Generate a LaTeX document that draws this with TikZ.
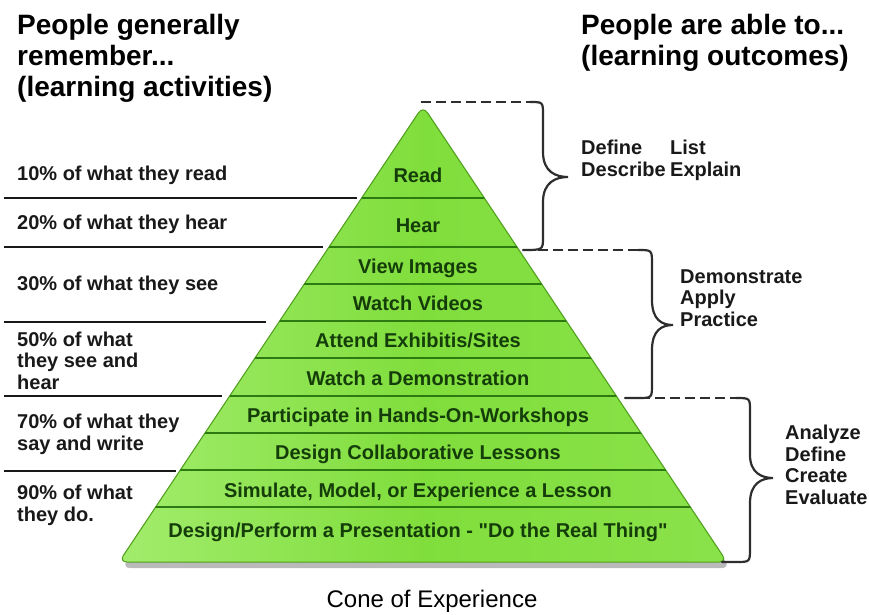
\documentclass[tikz,border=0pt]{standalone}
\usepackage{fontspec}
\setmainfont{Liberation Sans}[Ligatures=TeXOff]
\usetikzlibrary{shadows}

\definecolor{conegreen}{HTML}{80DE3C}
\definecolor{conelight}{HTML}{A2EC6C}
\definecolor{coneright}{HTML}{8AE24A}
\definecolor{conerim}{HTML}{4E9E1C}
\definecolor{layerline}{HTML}{2E7A12}
\definecolor{layertext}{HTML}{153D0A}
\definecolor{bracegray}{HTML}{2E2E2E}

\begin{document}
\begin{tikzpicture}[x=1pt, y=-1pt,
    head/.style={font=\bfseries\fontsize{28}{31}\selectfont, align=left, inner sep=0pt, anchor=base west},
    remember/.style={font=\bfseries\fontsize{20}{21.3}\selectfont, align=left, inner sep=0pt, anchor=base west, text=black!90},
    outcome/.style={font=\bfseries\fontsize{20}{21.5}\selectfont, align=left, inner sep=0pt, anchor=base west, text=black!90},
    layer/.style={font=\bfseries\fontsize{20}{22}\selectfont, text=layertext, inner sep=0pt, anchor=base},
    sepline/.style={line width=2.5pt, black!90},
    dashlink/.style={line width=2.5pt, bracegray, dash pattern=on 10pt off 5pt},
    brace/.style={line width=2.2pt, bracegray, line cap=round}]

    \useasboundingbox (0,0) rectangle (869,614);

    %the cone itself
    \path[draw=conerim, line width=1pt, rounded corners=8pt,
          left color=conelight, right color=coneright, middle color=conegreen,
          drop shadow={shadow xshift=3pt, shadow yshift=-6pt, fill=black!60, opacity=0.45}]
        (423,106) -- (727,562) -- (119,562) -- cycle;
    \begin{scope}
        \clip (423,106) -- (727,562) -- (119,562) -- cycle;
        \foreach \y in {198,247,284,321,358,396,433,470,507}
            \draw[layerline, line width=2pt] (100,\y) -- (760,\y);
    \end{scope}

    %headings (base is the last line)
    \node[head] (hdLeft) at (17,96) {People generally\\remember...\\(learning activities)};
    \node[head] (hdRight) at (581,65) {People are able to...\\(learning outcomes)};

    %what people remember
    \node[remember] (rd10) at (17,180) {10\% of what they read};
    \node[remember] (rd20) at (17,229) {20\% of what they hear};
    \node[remember] (rd30) at (17,290) {30\% of what they see};
    \node[remember] (rd50) at (17,389) {50\% of what\\they see and\\hear};
    \node[remember] (rd70) at (17,450) {70\% of what they\\say and write};
    \node[remember] (rd90) at (17,521) {90\% of what\\they do.};

    %the layers of the cone
    \node[layer] (lRead) at (418,182) {Read};
    \node[layer] (lHear) at (418,232) {Hear};
    \node[layer] (lView) at (418,273) {View Images};
    \node[layer] (lVideo) at (418,310) {Watch Videos};
    \node[layer] (lSites) at (418,347) {Attend Exhibitis/Sites};
    \node[layer] (lDemo) at (418,385) {Watch a Demonstration};
    \node[layer] (lWork) at (418,422) {Participate in Hands-On-Workshops};
    \node[layer] (lCollab) at (418,459) {Design Collaborative Lessons};
    \node[layer] (lSim) at (418,497) {Simulate, Model, or Experience a Lesson};
    \node[layer] (lReal) at (418,537) {Design/Perform a Presentation - "Do the Real Thing"};

    %learning outcomes
    \node[outcome] (outA) at (581,176) {Define\\Describe};
    \node[outcome] (outB) at (670,176) {List\\Explain};
    \node[outcome] (outC) at (680,326) {Demonstrate\\Apply\\Practice};
    \node[outcome] (outD) at (785,504) {Analyze\\Define\\Create\\Evaluate};

    %caption
    \node[font=\fontsize{24}{28}\selectfont, inner sep=0pt, anchor=base] (caption) at (432,607) {Cone of Experience};

    %separators on the left
    \coordinate (sA1) at (4,198);   \coordinate (sA2) at (357,198);
    \coordinate (sB1) at (4,247);   \coordinate (sB2) at (323,247);
    \coordinate (sC1) at (4,322);   \coordinate (sC2) at (266,322);
    \coordinate (sD1) at (4,396);   \coordinate (sD2) at (222,396);
    \coordinate (sE1) at (4,471);   \coordinate (sE2) at (176,471);
    \draw[sepline] (sA1) -- (sA2);
    \draw[sepline] (sB1) -- (sB2);
    \draw[sepline] (sC1) -- (sC2);
    \draw[sepline] (sD1) -- (sD2);
    \draw[sepline] (sE1) -- (sE2);

    %braces on the right
    \coordinate (apex) at (421,102);
    \coordinate (b1top) at (530,102);
    \coordinate (b1tip) at (568,177);
    \coordinate (b1bot) at (523,250);
    \coordinate (b2top) at (638,250);
    \coordinate (b2tip) at (673,325);
    \coordinate (b2bot) at (625,398);
    \coordinate (b3top) at (736,398);
    \coordinate (b3tip) at (773,478);
    \coordinate (b3bot) at (722,562);

    \draw[dashlink] (apex) -- (b1top);
    \draw[dashlink] (b1bot) -- (b2top);
    \draw[dashlink] (b2bot) -- (b3top);

    \draw[brace] (b1top) .. controls (543,102) .. (543,115) -- (543,152)
        .. controls (543,172) and (556,177) .. (b1tip)
        .. controls (556,177) and (543,182) .. (543,202) -- (543,237)
        .. controls (543,250) .. (b1bot);
    \draw[brace] (b2top) .. controls (652,250) .. (652,264) -- (652,300)
        .. controls (652,320) and (662,325) .. (b2tip)
        .. controls (662,325) and (652,330) .. (652,350) -- (652,384)
        .. controls (652,398) .. (638,398) -- (b2bot);
    \draw[brace] (b3top) .. controls (750,398) .. (750,411) -- (750,455)
        .. controls (750,473) and (762,478) .. (b3tip)
        .. controls (762,478) and (750,483) .. (750,503) -- (750,548)
        .. controls (750,562) .. (736,562) -- (b3bot);
\end{tikzpicture}
\end{document}
